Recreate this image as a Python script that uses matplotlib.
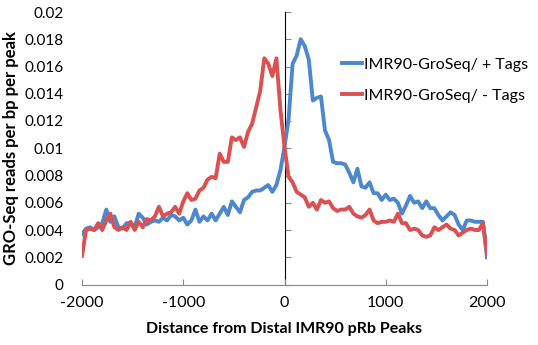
import numpy as np
import matplotlib
matplotlib.use('Agg')
import matplotlib.pyplot as plt

plt.rcParams['font.family'] = ['Lato', 'DejaVu Sans']
plt.rcParams['axes.unicode_minus'] = False

# distance from peak, 40 bp bins
distance = list(range(-2000, 2001, 40))

plus_tags = [
    0.0037, 0.0041, 0.0042, 0.0040, 0.0042, 0.0045, 0.0055, 0.0046, 0.0050, 0.0042,
    0.0041, 0.0045, 0.0045, 0.0042, 0.0052, 0.0049, 0.0044, 0.0046, 0.0047, 0.0046,
    0.0049, 0.0047, 0.0051, 0.0050, 0.0047, 0.0049, 0.0044, 0.0047, 0.0055, 0.0046,
    0.0050, 0.0047, 0.0052, 0.0047, 0.0052, 0.0057, 0.0051, 0.0061, 0.0057, 0.0053,
    0.0062, 0.0064, 0.0068, 0.0069, 0.0069, 0.0071, 0.0073, 0.0068, 0.0073, 0.0084,
    0.0101, 0.0121, 0.0162, 0.0168, 0.0180, 0.0175, 0.0165, 0.0135, 0.0137, 0.0138,
    0.0113, 0.0106, 0.0090, 0.0089, 0.0089, 0.0088, 0.0082, 0.0075, 0.0085, 0.0072,
    0.0071, 0.0075, 0.0067, 0.0067, 0.0062, 0.0066, 0.0062, 0.0063, 0.0060, 0.0052,
    0.0058, 0.0065, 0.0060, 0.0061, 0.0056, 0.0061, 0.0056, 0.0056, 0.0051, 0.0047,
    0.0050, 0.0053, 0.0051, 0.0044, 0.0040, 0.0047, 0.0047, 0.0046, 0.0046, 0.0046,
    0.0020,
]

minus_tags = [
    0.0021, 0.0040, 0.0041, 0.0040, 0.0045, 0.0040, 0.0047, 0.0052, 0.0042, 0.0040,
    0.0042, 0.0040, 0.0046, 0.0040, 0.0046, 0.0042, 0.0048, 0.0047, 0.0050, 0.0057,
    0.0050, 0.0052, 0.0053, 0.0057, 0.0052, 0.0061, 0.0067, 0.0062, 0.0063, 0.0069,
    0.0071, 0.0077, 0.0079, 0.0078, 0.0096, 0.0090, 0.0090, 0.0108, 0.0106, 0.0108,
    0.0101, 0.0112, 0.0118, 0.0130, 0.0142, 0.0166, 0.0162, 0.0153, 0.0166, 0.0128,
    0.0101, 0.0079, 0.0075, 0.0068, 0.0066, 0.0064, 0.0057, 0.0060, 0.0055, 0.0062,
    0.0060, 0.0061, 0.0056, 0.0054, 0.0055, 0.0055, 0.0057, 0.0052, 0.0050, 0.0049,
    0.0051, 0.0055, 0.0047, 0.0045, 0.0046, 0.0046, 0.0047, 0.0046, 0.0052, 0.0045,
    0.0045, 0.0040, 0.0041, 0.0040, 0.0036, 0.0035, 0.0036, 0.0042, 0.0040, 0.0042,
    0.0044, 0.0041, 0.0040, 0.0036, 0.0038, 0.0040, 0.0041, 0.0040, 0.0040, 0.0045,
    0.0023,
]

x_ticks = [-2000, -1000, 0, 1000, 2000]
y_ticks = [0, 0.002, 0.004, 0.006, 0.008, 0.01, 0.012, 0.014, 0.016, 0.018, 0.02]
y_labels = ['0', '0.002', '0.004', '0.006', '0.008', '0.01', '0.012', '0.014', '0.016', '0.018', '0.02']

axis_grey = '#888888'

fig = plt.figure(figsize=(5.38, 3.45), dpi=100)
ax = fig.add_axes([82 / 538, 1 - 284.5 / 345, 405 / 538, 272.5 / 345])

ax.plot(distance, plus_tags, color='#4D88CF', lw=2.8, label='IMR90-GroSeq/ + Tags', solid_joinstyle='round')
ax.plot(distance, minus_tags, color='#DB5050', lw=2.8, label='IMR90-GroSeq/ - Tags', solid_joinstyle='round')

ax.set_xlim(-2000, 2000)
ax.set_ylim(0, 0.02)
ax.set_xticks(x_ticks)
ax.set_xticklabels([str(t) for t in x_ticks], fontsize=11.5)
ax.set_yticks(y_ticks)
ax.set_yticklabels(y_labels, fontsize=11)

for s in ['top', 'right', 'left']:
    ax.spines[s].set_visible(False)
ax.spines['bottom'].set_color(axis_grey)
ax.tick_params(axis='x', direction='in', length=4, color=axis_grey, pad=8)
ax.tick_params(axis='y', length=0, pad=13.5)

# vertical axis crosses at zero distance
yax = ax.secondary_yaxis(0.5)
yax.set_yticks(y_ticks)
yax.set_yticklabels([])
yax.spines['left'].set_color(axis_grey)
yax.tick_params(axis='y', direction='out', length=4, color=axis_grey)

ax.set_xlabel('Distance from Distal IMR90 pRb Peaks', fontsize=11.5, fontweight='bold', labelpad=9)
ax.set_ylabel('GRO-Seq reads per bp per peak', fontsize=12, fontweight='bold')
ax.yaxis.set_label_coords(-0.155, 0.5)

ax.legend(loc='upper left', bbox_to_anchor=(0.625, 0.855), frameon=False, fontsize=11.5,
          handlelength=1.3, handletextpad=0.1, labelspacing=1.05, borderaxespad=0)

fig.savefig('out.png', dpi=100)
